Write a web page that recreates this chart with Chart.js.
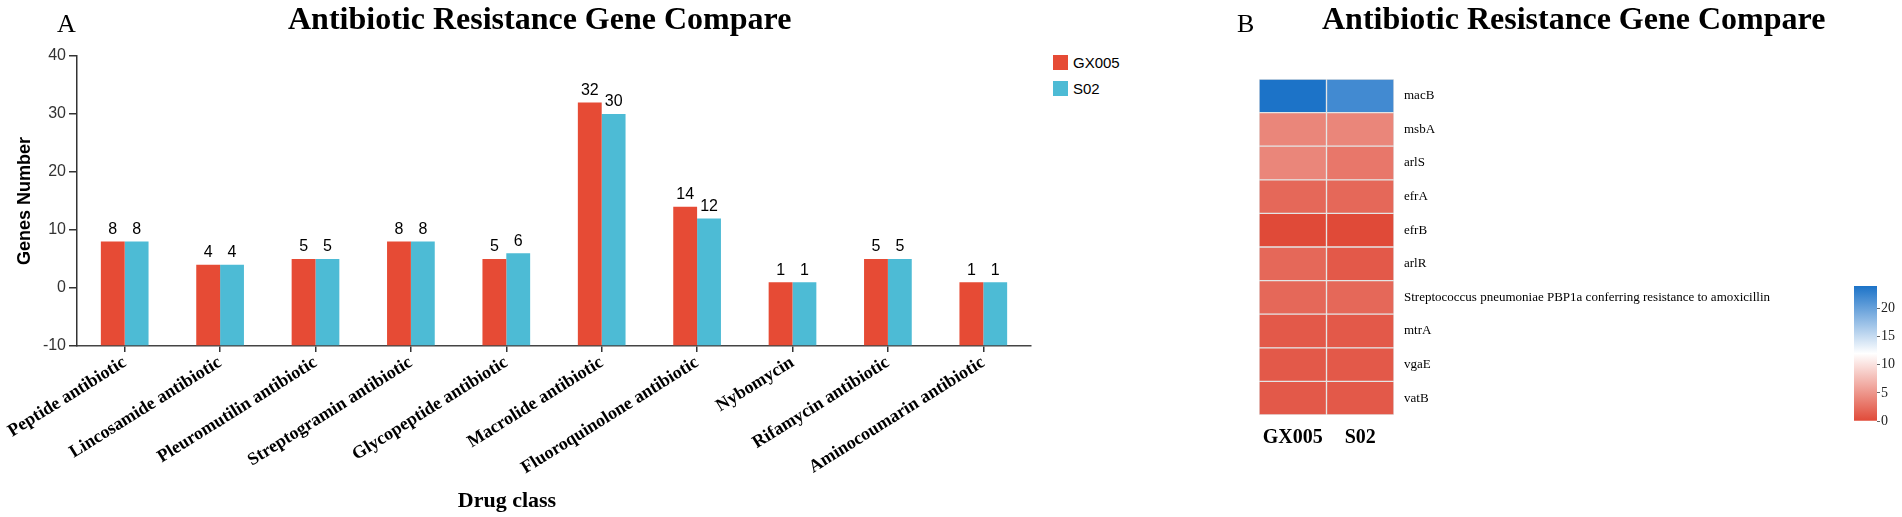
<!DOCTYPE html>
<html>
<head>
<meta charset="utf-8">
<script src="https://cdn.jsdelivr.net/npm/chart.js@4.4.1/dist/chart.umd.min.js"></script>
<style>
  body { margin: 0; background: #fff; width: 1902px; height: 517px; position: relative; overflow: hidden; }
  canvas { position: absolute; top: 0; }
  .txt { position: absolute; white-space: nowrap; color: #000; }
  .title { font: bold 32px "Liberation Serif", "Times New Roman", serif; line-height: 32px; top: 2px; }
  .panel { font: 26px "Liberation Serif", "Times New Roman", serif; line-height: 26px; top: 11px; }
  #legend { position: absolute; left: 1053px; top: 55px; font: 15px "Liberation Sans", Arial, sans-serif; }
  #legend div { height: 26px; display: flex; align-items: flex-start; }
  #legend span.box { width: 15px; height: 15px; margin-right: 5px; }
  #legend span.lab { line-height: 15px; }
</style>
</head>
<body>
<canvas id="barChart" width="1040" height="517" style="left:0"></canvas>
<canvas id="heatChart" width="600" height="517" style="left:1200px"></canvas>
<canvas id="scaleBar" width="102" height="517" style="left:1800px"></canvas>

<div class="txt panel" style="left:57px">A</div>
<div class="txt panel" style="left:1237px">B</div>
<div class="txt title" style="left:288px">Antibiotic Resistance Gene Compare</div>
<div class="txt title" style="left:1322px">Antibiotic Resistance Gene Compare</div>
<div class="txt" style="left:407px;width:200px;text-align:center;top:489px;font:bold 22px 'Liberation Serif','Times New Roman',serif;line-height:22px">Drug class</div>
<div id="legend"></div>

<script>
// panel A: genes per drug class
const drugClasses = [
  "Peptide antibiotic", "Lincosamide antibiotic", "Pleuromutilin antibiotic",
  "Streptogramin antibiotic", "Glycopeptide antibiotic", "Macrolide antibiotic",
  "Fluoroquinolone antibiotic", "Nybomycin", "Rifamycin antibiotic", "Aminocoumarin antibiotic"
];
const gx005Genes = [8, 4, 5, 8, 5, 32, 14, 1, 5, 1];
const s02Genes = [8, 4, 5, 8, 6, 30, 12, 1, 5, 1];
const yMin = -10;
const yMax = 40;

// panel B: heatmap
const samples = ["GX005", "S02"];
const genes = [
  "macB", "msbA", "arlS", "efrA", "efrB", "arlR",
  "Streptococcus pneumoniae PBP1a conferring resistance to amoxicillin",
  "mtrA", "vgaE", "vatB"
];
const gx005Heat = [24, 4, 4, 2, 0, 2, 2, 1, 1, 1];
const s02Heat = [22, 4, 3, 2, 0, 1, 2, 1, 1, 1];
const heatMax = 24;
const colorTicks = [0, 5, 10, 15, 20];

const sampleColors = ["#E64B35", "#4DBBD5"];

function heatColor(v) {
  const low = [224, 74, 56], mid = [255, 255, 255], high = [28, 115, 200];
  const half = heatMax / 2;
  let a, b, t;
  if (v <= half) { a = low; b = mid; t = v / half; }
  else { a = mid; b = high; t = (v - half) / half; }
  return "rgb(" + a.map((c, k) => Math.round(c + (b[k] - c) * t)).join(",") + ")";
}

// value labels above the bars
const valueLabels = {
  id: "valueLabels",
  afterDatasetsDraw(chart) {
    const ctx = chart.ctx;
    ctx.save();
    ctx.font = "16px 'Liberation Sans', Arial, sans-serif";
    ctx.fillStyle = "#000";
    ctx.textAlign = "center";
    ctx.textBaseline = "bottom";
    chart.data.datasets.forEach((ds, i) => {
      chart.getDatasetMeta(i).data.forEach((bar, j) => {
        ctx.fillText(ds.data[j], bar.x, bar.y - 4);
      });
    });
    ctx.restore();
  }
};

new Chart(document.getElementById("barChart"), {
  type: "bar",
  data: {
    labels: drugClasses,
    datasets: [
      { label: samples[0], data: gx005Genes, backgroundColor: sampleColors[0] },
      { label: samples[1], data: s02Genes, backgroundColor: sampleColors[1] }
    ].map(d => Object.assign(d, { base: yMin, categoryPercentage: 0.5, barPercentage: 1 }))
  },
  options: {
    responsive: false,
    animation: false,
    layout: { padding: { top: 56, right: 9, left: 0, bottom: 0 } },
    plugins: { legend: { display: false }, tooltip: { enabled: false } },
    scales: {
      x: {
        grid: { offset: false, drawOnChartArea: false, tickLength: 6, color: "#333", lineWidth: 1.5 },
        border: { color: "#444", width: 1.5 },
        ticks: {
          autoSkip: false, minRotation: 32, maxRotation: 32, padding: 0, color: "#000",
          font: { family: "'Liberation Serif', 'Times New Roman', serif", size: 18, weight: "bold" }
        },
        afterFit: s => { s.height = 171; s.paddingLeft = 0; s.paddingRight = 0; }
      },
      y: {
        min: yMin, max: yMax,
        ticks: { stepSize: 10, color: "#333", padding: 3, font: { family: "'Liberation Sans', Arial, sans-serif", size: 16 } },
        grid: { drawOnChartArea: false, tickLength: 8, color: "#333", lineWidth: 1.5 },
        border: { color: "#333", width: 1.5 },
        title: {
          display: true, text: "Genes Number", color: "#000", padding: { top: 14 },
          font: { family: "'Liberation Sans', Arial, sans-serif", size: 18, weight: "bold" }
        },
        afterFit: s => { s.width = 77; }
      }
    }
  },
  plugins: [valueLabels]
});

// legend for panel A
const legend = document.getElementById("legend");
samples.forEach((s, i) => {
  const row = document.createElement("div");
  row.innerHTML = '<span class="box" style="background:' + sampleColors[i] + '"></span><span class="lab">' + s + "</span>";
  legend.appendChild(row);
});

// panel B heatmap drawn as floating bars, one column per sample
new Chart(document.getElementById("heatChart"), {
  type: "bar",
  data: {
    labels: genes,
    datasets: [gx005Heat, s02Heat].map((vals, i) => ({
      label: samples[i],
      data: vals.map(() => [i, i + 1]),
      backgroundColor: vals.map(heatColor),
      borderColor: "#e4e4e4",
      borderWidth: 1,
      borderSkipped: false,
      barPercentage: 1,
      categoryPercentage: 1,
      grouped: false
    }))
  },
  options: {
    indexAxis: "y",
    responsive: false,
    animation: false,
    layout: { padding: { left: 59, top: 79, right: 0, bottom: 0 } },
    plugins: { legend: { display: false }, tooltip: { enabled: false } },
    scales: {
      x: {
        type: "linear", min: 0, max: samples.length,
        grid: { display: false, drawTicks: false },
        border: { display: false },
        afterBuildTicks: s => { s.ticks = samples.map((_, i) => ({ value: i + 0.5 })); },
        afterFit: s => { s.height = 102; },
        ticks: {
          autoSkip: false, maxRotation: 0, padding: 11, color: "#000",
          font: { family: "'Liberation Serif', 'Times New Roman', serif", size: 20, weight: "bold" },
          callback: (v, i) => samples[i]
        }
      },
      y: {
        position: "right",
        grid: { display: false, drawTicks: false },
        border: { display: false },
        afterFit: s => { s.width = 406; },
        ticks: { autoSkip: false, padding: 10, color: "#000", font: { family: "'Liberation Serif', 'Times New Roman', serif", size: 13 } }
      }
    }
  }
});

// colour scale for the heatmap
new Chart(document.getElementById("scaleBar"), {
  type: "bar",
  data: {
    labels: [""],
    datasets: [{
      data: [heatMax],
      barPercentage: 1,
      categoryPercentage: 1,
      backgroundColor: ctx => {
        const area = ctx.chart.chartArea;
        if (!area) return heatColor(0);
        const g = ctx.chart.ctx.createLinearGradient(0, area.bottom, 0, area.top);
        [0, 0.25, 0.5, 0.75, 1].forEach(f => g.addColorStop(f, heatColor(f * heatMax)));
        return g;
      }
    }]
  },
  options: {
    responsive: false,
    animation: false,
    layout: { padding: { left: 54, top: 286, right: 0, bottom: 96 } },
    plugins: { legend: { display: false }, tooltip: { enabled: false } },
    scales: {
      x: { display: false },
      y: {
        position: "right", min: 0, max: heatMax,
        afterBuildTicks: s => { s.ticks = colorTicks.map(v => ({ value: v })); },
        afterFit: s => { s.width = 25; },
        grid: { drawOnChartArea: false, tickLength: 3, color: "#666" },
        border: { display: false },
        ticks: { padding: 1, color: "#222", font: { family: "'Liberation Serif', 'Times New Roman', serif", size: 14 } }
      }
    }
  }
});
</script>
</body>
</html>
